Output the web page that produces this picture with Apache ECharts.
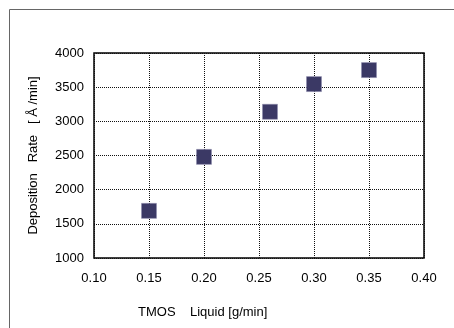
<!DOCTYPE html>
<html>
<head>
<meta charset="utf-8">
<script src="https://cdn.jsdelivr.net/npm/echarts@6/dist/echarts.min.js"></script>
<style>html,body{margin:0;padding:0;background:#fff}#c{width:454px;height:328px}</style>
</head>
<body>
<div id="c"></div>
<script>
const xValues = [0.15, 0.20, 0.26, 0.30, 0.35];
const yValues = [1690, 2480, 3140, 3545, 3750];
const xTitle = 'TMOS    Liquid [g/min]';
const yTitle = 'Deposition   Rate   [ Å /min]';

const font = '"Liberation Sans", Arial, sans-serif';
const chart = echarts.init(document.getElementById('c'), null, {renderer: 'canvas'});
const gridStyle = {color: '#111', type: [1, 1], width: 1};
chart.setOption({
  animation: false,
  graphic: [{
    type: 'rect', shape: {x: 9.5, y: 9.5, width: 470, height: 340},
    style: {fill: 'none', stroke: '#666', lineWidth: 1}, z: -1
  }, {
    type: 'text', left: 138, top: 306,
    style: {text: xTitle, font: '13px ' + font, fill: '#000'}
  }],
  grid: {left: 94, right: 30, top: 53, bottom: 70, show: true, borderColor: '#000', borderWidth: 1.5, backgroundColor: 'transparent'},
  xAxis: {
    type: 'value', min: 0.10, max: 0.40, interval: 0.05,
    axisLine: {show: false}, axisTick: {show: false},
    splitLine: {show: true, lineStyle: gridStyle},
    axisLabel: {formatter: v => v.toFixed(2), color: '#000', fontSize: 13, fontFamily: font, margin: 14}
  },
  yAxis: {
    type: 'value', min: 1000, max: 4000, interval: 500,
    name: yTitle, nameLocation: 'middle', nameGap: 54, nameRotate: 90,
    nameTextStyle: {color: '#000', fontSize: 13, fontFamily: font},
    axisLine: {show: false}, axisTick: {show: false},
    splitLine: {show: true, lineStyle: gridStyle},
    axisLabel: {formatter: v => String(v), color: '#000', fontSize: 13, fontFamily: font, margin: 10}
  },
  series: [{
    type: 'scatter',
    data: xValues.map((x, i) => [x, yValues[i]]),
    symbol: 'rect', symbolSize: 15,
    itemStyle: {color: '#3b3965', borderColor: '#8a88aa', borderWidth: 0.5, opacity: 1}
  }]
});
</script>
</body>
</html>
